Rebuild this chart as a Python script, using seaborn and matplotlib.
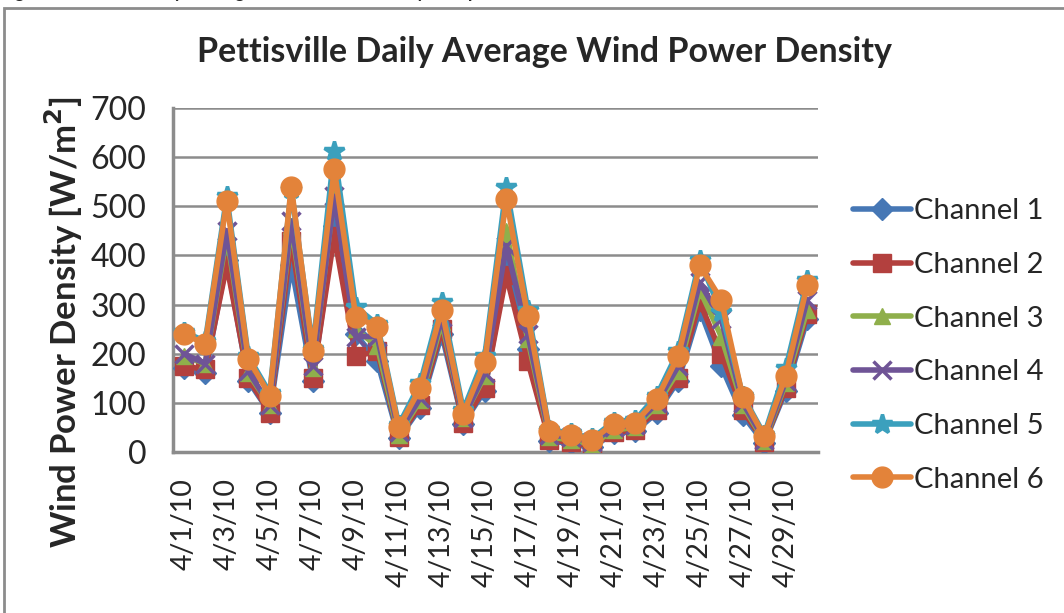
"""
Pettisville daily average wind power density, six channels (April 2010)
"""

import pandas as pd
import matplotlib.pyplot as plt
import seaborn as sns
from matplotlib.patches import Rectangle

# --- Data ---
days = [f"4/{d}/10" for d in range(1, 31)]

ch1 = [170, 160, 390, 145, 80, 380, 145, 460, 240, 185, 28, 90, 240, 58, 125,
       380, 210, 22, 18, 10, 38, 42, 80, 145, 290, 175, 75, 18, 125, 270]
ch2 = [175, 168, 380, 150, 80, 430, 150, 440, 195, 205, 30, 95, 250, 60, 130,
       360, 185, 25, 20, 12, 40, 45, 85, 150, 305, 200, 85, 20, 130, 280]
ch3 = [195, 180, 440, 160, 95, 460, 170, 525, 250, 215, 35, 105, 265, 70, 155,
       450, 230, 30, 25, 15, 45, 50, 95, 165, 330, 235, 95, 22, 140, 290]
ch4 = [200, 180, 450, 165, 95, 470, 175, 520, 235, 235, 40, 110, 275, 70, 160,
       420, 240, 35, 30, 20, 50, 55, 100, 175, 345, 270, 100, 25, 145, 310]
ch5 = [245, 225, 520, 195, 120, 535, 210, 612, 295, 260, 55, 140, 305, 85, 195,
       540, 290, 45, 38, 28, 62, 65, 115, 205, 390, 285, 115, 35, 170, 350]
ch6 = [240, 220, 510, 190, 115, 540, 205, 575, 275, 255, 50, 130, 290, 78, 183,
       515, 277, 43, 35, 25, 58, 60, 108, 195, 380, 310, 112, 32, 155, 340]

channels = ["Channel 1", "Channel 2", "Channel 3", "Channel 4", "Channel 5", "Channel 6"]
series = [ch1, ch2, ch3, ch4, ch5, ch6]

# long form table for seaborn
rows = []
for name, vals in zip(channels, series):
    for i, v in enumerate(vals):
        rows.append({"day": i, "channel": name, "wpd": v})
df = pd.DataFrame(rows)

colors = ["#4677B5", "#B3403E", "#8FAF4B", "#6F5496", "#3BA0BD", "#E3833A"]
markers = ["D", "s", "^", "x", "*", "o"]
msizes = [11, 13, 12, 13, 15, 15]

# --- Plot ---
sns.set_style("white")
plt.rcParams["font.family"] = ["Lato", "DejaVu Sans"]

fig = plt.figure(figsize=(10.64, 6.13), dpi=100)
ax = fig.add_axes([0.1626, 0.2626, 0.6062, 0.5612])

for name, col, mk, ms in zip(channels, colors, markers, msizes):
    sub = df[df["channel"] == name]
    sns.lineplot(data=sub, x="day", y="wpd", ax=ax, color=col, lw=4,
                 marker=mk, markersize=ms, markeredgecolor=col,
                 markeredgewidth=2.5 if mk in ("x", "*") else 1,
                 label=name, zorder=3)

ax.set_xlim(-0.5, len(days) - 0.5)
ax.set_ylim(0, 700)
ax.set_yticks(range(0, 701, 100))
ax.set_xticks(range(0, len(days), 2))
ax.set_xticklabels(days[::2], rotation=90, fontsize=20.5)
ax.tick_params(axis="y", labelsize=23, length=0, pad=19)
ax.tick_params(axis="x", length=0, pad=19)
ax.yaxis.grid(True, color="#8C8C8C", lw=1.8)
ax.set_axisbelow(True)
for s in ["top", "right"]:
    ax.spines[s].set_visible(False)
for s in ["left", "bottom"]:
    ax.spines[s].set_color("#8C8C8C")
    ax.spines[s].set_linewidth(2.5)

ax.set_xlabel("")
ax.set_ylabel("Wind Power Density [W/m$^\\mathbf{2}$]", fontsize=25,
              fontweight="bold")
ax.yaxis.set_label_coords(-0.136, 0.378)

fig.text(0.512, 0.915, "Pettisville Daily Average Wind Power Density",
         ha="center", va="center", fontsize=24.5, fontweight="bold")

leg = ax.legend(loc="center left", bbox_to_anchor=(1.0, 0.31), frameon=False,
                fontsize=21, handlelength=2.0, handletextpad=0.1,
                labelspacing=0.95, borderaxespad=0.8)

# chart area border and the clipped caption above it (only descenders show)
fig.patches.append(Rectangle((0.004, -0.1), 1.2, 1.087, transform=fig.transFigure,
                             fill=False, edgecolor="#8C8C8C", lw=2))
fig.text(0.0, 1.004, "Figure 18: Tower Daily Average Wind Power Density Comparison",
         ha="left", va="baseline", fontsize=13, fontweight="bold")

fig.savefig("out.png", dpi=100)
plt.close()
